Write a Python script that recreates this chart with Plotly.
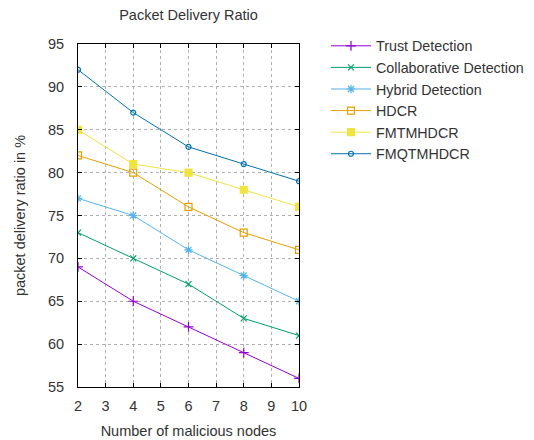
import plotly.graph_objects as go

nodes = [2, 4, 6, 8, 10]
trust = [69, 65, 62, 59, 56]
collab = [73, 70, 67, 63, 61]
hybrid = [77, 75, 71, 68, 65]
hdcr = [82, 80, 76, 73, 71]
fmtmhdcr = [85, 81, 80, 78, 76]
fmqtmhdcr = [92, 87, 83, 81, 79]

names = ["Trust Detection", "Collaborative Detection", "Hybrid Detection",
         "HDCR", "FMTMHDCR", "FMQTMHDCR"]
series = [trust, collab, hybrid, hdcr, fmtmhdcr, fmqtmhdcr]
colors = ["#9400d3", "#009e73", "#56b4e9", "#e69f00", "#f0e442", "#0072b2"]
symbols = ["cross-thin", "x-thin", "asterisk-open", "square-open", "square", "circle-open"]
sizes = [7, 6, 7, 7, 7, 5]

fig = go.Figure()
for n, s, c, sym, sz in zip(names, series, colors, symbols, sizes):
    fig.add_trace(go.Scatter(
        x=nodes, y=s, name=n, mode="lines+markers",
        line=dict(color=c, width=1),
        marker=dict(symbol=sym, size=sz, color=c,
                    line=dict(color=c, width=1.2)),
    ))

font = "Liberation Sans, Arial, sans-serif"
tc = "#333333"
fig.update_layout(
    width=534, height=440,
    margin=dict(l=78, r=235, t=44, b=53),
    paper_bgcolor="white", plot_bgcolor="white",
    font=dict(family=font, size=14, color=tc),
    title=dict(text="Packet Delivery Ratio", x=(78 + 299) / 2 / 534, xanchor="center",
               y=1 - 15 / 440, yanchor="middle", font=dict(size=14.5, color=tc)),
    xaxis=dict(range=[2, 10], tickvals=list(range(2, 11)), showgrid=True,
               gridcolor="#b0b0b0", griddash="dot", gridwidth=1,
               ticks="inside", ticklen=4, tickcolor="black", mirror="ticks",
               showline=True, linecolor="black", linewidth=1, zeroline=False,
               tickfont=dict(size=14.5, color=tc), ticklabelstandoff=6, automargin=False,
               title=dict(text="Number of malicious nodes", font=dict(size=14.5, color=tc), standoff=12)),
    yaxis=dict(range=[55, 95], tickvals=list(range(55, 96, 5)), showgrid=True,
               gridcolor="#b0b0b0", griddash="dot", gridwidth=1,
               ticks="inside", ticklen=4, tickcolor="black", mirror="ticks",
               showline=True, linecolor="black", linewidth=1, zeroline=False,
               tickfont=dict(size=14.5, color=tc), ticklabelstandoff=10, automargin=False,
               title=dict(text="packet delivery ratio in %", font=dict(size=14.5, color=tc), standoff=18)),
    legend=dict(xref="container", yref="container", x=326 / 534, xanchor="left",
                y=1 - 30 / 440, yanchor="top",
                font=dict(size=14.3, color=tc), tracegroupgap=0,
                bgcolor="rgba(0,0,0,0)", itemwidth=40),
    showlegend=True,
)
fig.write_html("out.html")
